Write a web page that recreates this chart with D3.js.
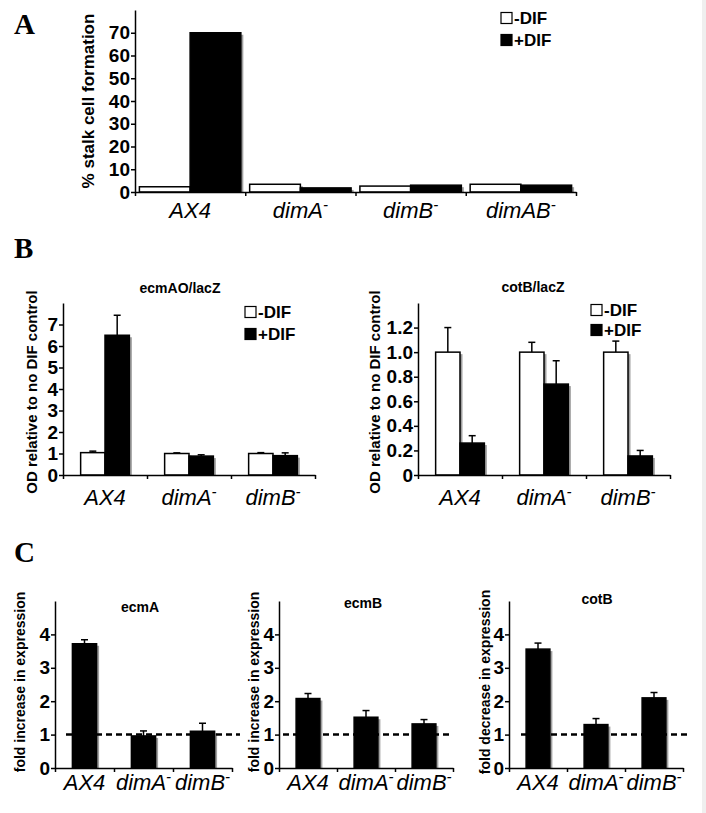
<!DOCTYPE html>
<html><head><meta charset="utf-8">
<script src="https://cdn.jsdelivr.net/npm/d3@7"></script>
<style>body{margin:0;background:#fff} svg{display:block}</style>
</head><body>
<svg id="c" width="706" height="813"></svg>
<script>
// ---------- DATA ----------
const seriesNames = ["-DIF", "+DIF"];

const catsA = ["AX4", "dimA-", "dimB-", "dimAB-"];
const stalkMinusDIF = [2.3, 3.4, 2.6, 3.4];
const stalkPlusDIF = [70, 1.8, 3.0, 3.0];
const ticksA = [0, 10, 20, 30, 40, 50, 60, 70];

const catsB = ["AX4", "dimA-", "dimB-"];
const ecmAOMinus = [1.04, 1.0, 1.0];
const ecmAOMinusErr = [0.07, 0.03, 0.04];
const ecmAOPlus = [6.5, 0.88, 0.9];
const ecmAOPlusErr = [0.93, 0.06, 0.13];
const ticksEcmAO = [0, 1, 2, 3, 4, 5, 6, 7];

const cotBMinus = [1.0, 1.0, 1.0];
const cotBMinusErr = [0.2, 0.08, 0.09];
const cotBPlus = [0.26, 0.74, 0.155];
const cotBPlusErr = [0.06, 0.19, 0.045];
const ticksCotB = [0, 0.2, 0.4, 0.6, 0.8, 1.0, 1.2];

const catsC = ["AX4", "dimA-", "dimB-"];
const ecmAFold = [3.72, 0.96, 1.1];
const ecmAFoldErr = [0.12, 0.15, 0.24];
const ecmBFold = [2.08, 1.52, 1.32];
const ecmBFoldErr = [0.15, 0.2, 0.13];
const cotBFold = [3.56, 1.3, 2.1];
const cotBFoldErr = [0.18, 0.18, 0.16];
const ticksC = [0, 1, 2, 3, 4];

// ---------- DRAW ----------
const SANS = "'Liberation Sans', Arial, Helvetica, sans-serif";
const svg = d3.select("#c");
svg.append("rect").attr("x", 0).attr("y", 0).attr("width", 706).attr("height", 813).attr("fill", "#fff");
svg.append("rect").attr("x", 702).attr("y", 0).attr("width", 4).attr("height", 813).attr("fill", "#efefef");

function catLabel(sel, name) {
  const sup = name.endsWith("-");
  sel.append("tspan").text(sup ? name.slice(0, -1) : name);
  if (sup) sel.append("tspan").attr("dy", -8).attr("font-size", 15).text("-");
}

function chart(cfg) {
  const g = svg.append("g");
  const n = cfg.cats.length;
  const x = d3.scaleBand().domain(cfg.cats).range([cfg.x0, cfg.x1])
    .paddingInner(cfg.pad).paddingOuter(cfg.pad / 2);
  const xs = d3.scaleBand().domain(d3.range(cfg.series.length)).range([0, x.bandwidth()]);
  const y = d3.scaleLinear().domain(cfg.domain).range([cfg.yBottom, cfg.yTop]);

  // shadows
  cfg.series.forEach((s, si) => {
    g.append("g").selectAll("rect").data(s.values).join("rect")
      .attr("x", (d, i) => x(cfg.cats[i]) + xs(si) + 2.5)
      .attr("y", d => y(d) + 2)
      .attr("width", xs.bandwidth())
      .attr("height", d => Math.max(0, y(0) - y(d) - 1))
      .attr("fill", "#a0a0a0");
  });
  // error bars
  cfg.series.forEach((s, si) => {
    if (!s.errors) return;
    const eg = g.append("g").attr("stroke", "#000").attr("stroke-width", 1.5);
    s.values.forEach((v, i) => {
      const cx = x(cfg.cats[i]) + xs(si) + xs.bandwidth() / 2;
      eg.append("line").attr("x1", cx).attr("x2", cx).attr("y1", y(v)).attr("y2", y(v + s.errors[i]));
      eg.append("line").attr("x1", cx - 3.5).attr("x2", cx + 3.5).attr("y1", y(v + s.errors[i])).attr("y2", y(v + s.errors[i]));
    });
  });
  // bars
  cfg.series.forEach((s, si) => {
    g.append("g").selectAll("rect").data(s.values).join("rect")
      .attr("x", (d, i) => x(cfg.cats[i]) + xs(si))
      .attr("y", d => y(d))
      .attr("width", xs.bandwidth())
      .attr("height", d => y(0) - y(d))
      .attr("fill", s.fill).attr("stroke", "#000").attr("stroke-width", 1.5);
  });
  // dashed reference
  if (cfg.dash) {
    g.append("line").attr("x1", cfg.dash[0]).attr("x2", cfg.dash[1])
      .attr("y1", y(1)).attr("y2", y(1))
      .attr("stroke", "#000").attr("stroke-width", 2.5).attr("stroke-dasharray", "6,4");
  }
  // y axis
  const ya = g.append("g").attr("transform", `translate(${cfg.x0},0)`)
    .call(d3.axisLeft(y).tickValues(cfg.ticks).tickSize(4).tickSizeOuter(0).tickPadding(1).tickFormat(cfg.fmt));
  ya.selectAll("path,line").attr("stroke", "#000").attr("stroke-width", 1.5);
  ya.selectAll("text").attr("font-family", SANS).attr("font-weight", "bold").attr("font-size", 19).attr("fill", "#000");
  // x axis with boundary ticks
  const xl = d3.scaleLinear().domain([0, n]).range([cfg.x0, cfg.x1]);
  const xa = g.append("g").attr("transform", `translate(0,${cfg.yBottom})`)
    .call(d3.axisBottom(xl).tickValues(d3.range(n + 1)).tickSize(4).tickSizeOuter(0).tickFormat(""));
  xa.selectAll("path,line").attr("stroke", "#000").attr("stroke-width", 1.5);
  // category labels
  cfg.cats.forEach(c => {
    const t = g.append("text").attr("x", x(c) + x.bandwidth() / 2 + (cfg.labDx || 0)).attr("y", cfg.labelY)
      .attr("text-anchor", "middle").attr("font-family", SANS).attr("font-style", "italic")
      .attr("font-size", 22).attr("fill", "#000");
    catLabel(t, c);
  });
  // title
  if (cfg.title) {
    g.append("text").attr("x", cfg.title[1]).attr("y", cfg.title[2]).attr("text-anchor", "middle")
      .attr("font-family", SANS).attr("font-weight", "bold").attr("font-size", 14).text(cfg.title[0]);
  }
  // y label
  g.append("text").attr("transform", `translate(${cfg.ylab[1]},${cfg.ylab[2]}) rotate(-90)`)
    .attr("text-anchor", "middle").attr("dominant-baseline", "central")
    .attr("font-family", SANS).attr("font-weight", "bold").attr("font-size", cfg.ylab[3]).text(cfg.ylab[0]);
  // legend
  if (cfg.legend) {
    const [lx, ly1, ly2] = cfg.legend;
    [ly1, ly2].forEach((ly, i) => {
      g.append("rect").attr("x", lx).attr("y", ly - 5.5).attr("width", 11).attr("height", 11)
        .attr("fill", cfg.series[i].fill).attr("stroke", "#000").attr("stroke-width", 1.2);
      g.append("text").attr("x", lx + 13).attr("y", ly).attr("dominant-baseline", "central")
        .attr("font-family", SANS).attr("font-weight", "bold").attr("font-size", 17).text(seriesNames[i]);
    });
  }
}

function panelLetter(t, x, y) {
  svg.append("text").attr("x", x).attr("y", y).attr("font-family", "'Liberation Serif', 'Times New Roman', serif")
    .attr("font-weight", "bold").attr("font-size", 29).text(t);
}

const fmtInt = d3.format("d");
const fmtDec = d => d === 0 ? "0" : d3.format(".1f")(d);

panelLetter("A", 14, 34);
chart({
  cats: catsA, x0: 135, x1: 576, yTop: 10, yBottom: 192, domain: [0, 80], pad: 0.08,
  ticks: ticksA, fmt: fmtInt, labelY: 218,
  series: [{ values: stalkMinusDIF, fill: "#fff" }, { values: stalkPlusDIF, fill: "#000" }],
  ylab: ["% stalk cell formation", 88, 101, 17], legend: [501, 18, 40]
});

panelLetter("B", 14, 258);
chart({
  cats: catsB, x0: 63, x1: 315, yTop: 303, yBottom: 475, domain: [0, 8], pad: 0.42,
  ticks: ticksEcmAO, fmt: fmtInt, labelY: 505,
  series: [{ values: ecmAOMinus, errors: ecmAOMinusErr, fill: "#fff" },
           { values: ecmAOPlus, errors: ecmAOPlusErr, fill: "#000" }],
  title: ["ecmAO/lacZ", 180, 293], ylab: ["OD relative to no DIF control", 31, 392, 15],
  legend: [245, 312, 334]
});
chart({
  cats: catsB, x0: 418, x1: 670, yTop: 303, yBottom: 475, domain: [0, 1.4], pad: 0.42,
  ticks: ticksCotB, fmt: fmtDec, labelY: 505,
  series: [{ values: cotBMinus, errors: cotBMinusErr, fill: "#fff" },
           { values: cotBPlus, errors: cotBPlusErr, fill: "#000" }],
  title: ["cotB/lacZ", 533, 292], ylab: ["OD relative to no DIF control", 374, 392, 15],
  legend: [591, 310, 330]
});

panelLetter("C", 14, 562);
chart({
  cats: catsC, x0: 55, x1: 232, yTop: 601, yBottom: 768, domain: [0, 5], pad: 0.59,
  ticks: ticksC, fmt: fmtInt, labelY: 790, dash: [66, 240],
  series: [{ values: ecmAFold, errors: ecmAFoldErr, fill: "#000" }],
  title: ["ecmA", 140, 612], ylab: ["fold increase in expression", 20, 682, 14]
});
chart({
  cats: catsC, x0: 279, x1: 453, yTop: 601, yBottom: 768, domain: [0, 5], pad: 0.59,
  ticks: ticksC, fmt: fmtInt, labelY: 790, dash: [283, 453],
  series: [{ values: ecmBFold, errors: ecmBFoldErr, fill: "#000" }],
  title: ["ecmB", 363, 608], ylab: ["fold increase in expression", 254, 682, 14]
});
chart({
  cats: catsC, x0: 509, x1: 683, yTop: 601, yBottom: 768, domain: [0, 5], pad: 0.59,
  ticks: ticksC, fmt: fmtInt, labelY: 790, dash: [521, 687],
  series: [{ values: cotBFold, errors: cotBFoldErr, fill: "#000" }],
  title: ["cotB", 597, 604], ylab: ["fold decrease in expression", 485, 682, 14]
});
</script>
</body></html>
